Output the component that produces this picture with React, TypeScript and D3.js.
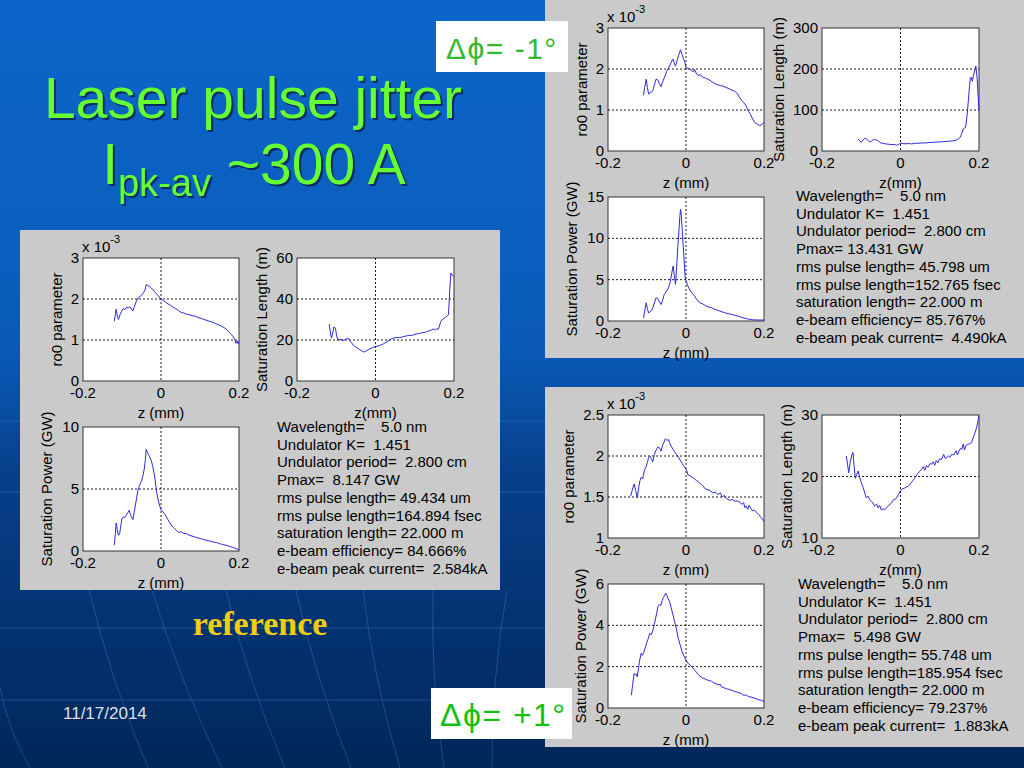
import React from "react";
import * as d3 from "d3";

// z (mm) vs value pairs
const refRo0: [number, number][] = [[-0.120,1.45],[-0.117,1.62],[-0.115,1.75],[-0.112,1.58],[-0.109,1.50],[-0.105,1.62],[-0.101,1.70],[-0.097,1.77],[-0.092,1.74],[-0.088,1.80],[-0.084,1.78],[-0.080,1.81],[-0.076,1.76],[-0.072,1.71],[-0.068,1.82],[-0.063,1.95],[-0.059,2.02],[-0.054,2.06],[-0.049,2.10],[-0.045,2.15],[-0.041,2.22],[-0.038,2.35],[-0.034,2.33],[-0.030,2.31],[-0.025,2.27],[-0.020,2.22],[-0.015,2.16],[-0.010,2.11],[-0.005,2.05],[0.000,2.01],[0.006,1.96],[0.012,1.92],[0.018,1.88],[0.024,1.85],[0.031,1.80],[0.038,1.76],[0.045,1.72],[0.052,1.67],[0.058,1.66],[0.065,1.63],[0.072,1.62],[0.080,1.59],[0.088,1.58],[0.095,1.55],[0.102,1.53],[0.110,1.50],[0.118,1.48],[0.126,1.45],[0.133,1.43],[0.140,1.40],[0.148,1.37],[0.155,1.34],[0.162,1.30],[0.168,1.26],[0.174,1.20],[0.180,1.14],[0.185,1.08],[0.189,1.02],[0.192,0.92],[0.195,0.98],[0.198,0.90],[0.200,0.96]];
const refSatLen: [number, number][] = [[-0.118,27.7],[-0.114,22.5],[-0.112,20.9],[-0.109,23.5],[-0.106,26.3],[-0.102,25.8],[-0.099,22.0],[-0.096,20.2],[-0.093,20.0],[-0.088,20.3],[-0.083,19.9],[-0.078,20.1],[-0.074,20.6],[-0.070,20.9],[-0.066,19.8],[-0.061,18.6],[-0.057,17.6],[-0.052,16.8],[-0.046,16.0],[-0.040,15.3],[-0.035,14.7],[-0.031,14.2],[-0.027,14.3],[-0.023,14.8],[-0.019,15.2],[-0.014,15.7],[-0.009,16.2],[-0.004,16.5],[0.000,16.8],[0.006,17.0],[0.012,17.4],[0.020,18.1],[0.027,18.9],[0.034,19.7],[0.041,20.7],[0.048,21.0],[0.055,21.3],[0.062,21.1],[0.071,21.7],[0.078,21.9],[0.085,22.3],[0.090,22.1],[0.096,22.5],[0.104,22.9],[0.112,23.2],[0.120,23.6],[0.128,23.8],[0.130,24.1],[0.138,24.6],[0.143,24.9],[0.147,25.4],[0.152,24.8],[0.156,25.5],[0.160,25.2],[0.163,26.8],[0.166,29.0],[0.172,30.2],[0.178,31.0],[0.183,31.8],[0.186,32.3],[0.188,40.0],[0.190,47.0],[0.192,52.7],[0.195,51.8],[0.198,51.2],[0.200,51.0]];
const refPower: [number, number][] = [[-0.120,0.46],[-0.117,1.40],[-0.115,2.26],[-0.112,1.70],[-0.109,1.26],[-0.106,1.40],[-0.103,2.05],[-0.100,2.60],[-0.097,2.74],[-0.093,2.70],[-0.089,2.90],[-0.085,3.10],[-0.082,3.28],[-0.079,3.00],[-0.076,2.75],[-0.072,2.53],[-0.069,3.10],[-0.065,3.80],[-0.062,4.40],[-0.059,4.90],[-0.055,5.30],[-0.050,5.65],[-0.046,6.10],[-0.043,6.60],[-0.040,7.40],[-0.038,8.20],[-0.035,7.95],[-0.031,7.70],[-0.028,7.50],[-0.025,7.30],[-0.021,6.80],[-0.018,6.30],[-0.016,5.97],[-0.013,5.20],[-0.011,4.70],[-0.009,4.35],[-0.006,3.95],[-0.003,3.60],[0.000,3.33],[0.004,3.20],[0.009,3.00],[0.014,2.74],[0.020,2.40],[0.026,2.10],[0.032,1.90],[0.039,1.67],[0.045,1.50],[0.052,1.55],[0.058,1.42],[0.065,1.40],[0.072,1.28],[0.080,1.20],[0.088,1.12],[0.095,1.05],[0.102,0.99],[0.110,0.92],[0.118,0.85],[0.126,0.80],[0.133,0.73],[0.142,0.68],[0.150,0.60],[0.158,0.52],[0.167,0.46],[0.175,0.38],[0.183,0.30],[0.192,0.20],[0.200,0.11]];

const minusRo0: [number, number][] = [[-0.109,1.36],[-0.106,1.55],[-0.102,1.75],[-0.099,1.55],[-0.096,1.39],[-0.092,1.42],[-0.088,1.44],[-0.085,1.48],[-0.081,1.62],[-0.077,1.75],[-0.073,1.74],[-0.069,1.66],[-0.064,1.57],[-0.060,1.68],[-0.055,1.80],[-0.050,1.93],[-0.045,2.02],[-0.040,2.12],[-0.036,2.20],[-0.033,2.24],[-0.030,2.14],[-0.027,2.07],[-0.023,2.20],[-0.019,2.33],[-0.014,2.47],[-0.010,2.35],[-0.006,2.24],[-0.003,2.16],[0.000,2.03],[0.005,2.02],[0.010,2.00],[0.015,1.96],[0.019,1.93],[0.022,1.99],[0.026,1.90],[0.031,1.84],[0.037,1.86],[0.043,1.80],[0.050,1.78],[0.056,1.75],[0.062,1.72],[0.068,1.68],[0.075,1.64],[0.082,1.61],[0.088,1.60],[0.095,1.58],[0.103,1.55],[0.110,1.52],[0.118,1.48],[0.125,1.46],[0.130,1.42],[0.136,1.33],[0.142,1.24],[0.148,1.18],[0.154,1.10],[0.159,0.99],[0.165,0.90],[0.170,0.80],[0.176,0.70],[0.182,0.66],[0.189,0.62],[0.194,0.64],[0.200,0.70]];
const minusSatLen: [number, number][] = [[-0.108,29.5],[-0.104,25.0],[-0.100,21.0],[-0.096,26.0],[-0.091,31.0],[-0.086,28.5],[-0.081,24.0],[-0.076,22.5],[-0.071,26.5],[-0.066,28.0],[-0.061,27.0],[-0.056,24.0],[-0.049,19.0],[-0.043,18.5],[-0.036,17.0],[-0.030,16.5],[-0.023,15.6],[-0.016,16.2],[-0.010,14.0],[-0.005,16.0],[0.000,19.0],[0.007,18.0],[0.014,17.5],[0.021,18.2],[0.028,17.2],[0.036,18.5],[0.043,19.0],[0.050,19.2],[0.057,19.8],[0.064,19.5],[0.071,20.5],[0.078,21.0],[0.085,21.3],[0.092,21.8],[0.099,22.0],[0.106,22.5],[0.113,23.0],[0.120,23.5],[0.127,24.0],[0.133,24.8],[0.139,25.4],[0.145,28.0],[0.151,32.0],[0.155,40.0],[0.160,54.0],[0.166,58.0],[0.170,90.0],[0.173,124],[0.176,160],[0.178,178],[0.180,180],[0.183,170],[0.186,185],[0.189,195],[0.192,207],[0.195,180],[0.198,130],[0.200,99]];
const minusPower: [number, number][] = [[-0.109,0.32],[-0.106,1.20],[-0.102,2.20],[-0.099,1.50],[-0.096,1.00],[-0.092,1.10],[-0.088,1.30],[-0.085,1.60],[-0.081,2.20],[-0.077,2.80],[-0.073,2.75],[-0.069,2.40],[-0.064,2.00],[-0.060,2.50],[-0.056,3.20],[-0.050,3.60],[-0.045,4.00],[-0.040,4.80],[-0.036,5.90],[-0.033,6.65],[-0.030,5.50],[-0.027,4.44],[-0.024,6.50],[-0.021,8.90],[-0.018,11.0],[-0.016,12.5],[-0.014,13.5],[-0.012,12.8],[-0.010,11.2],[-0.008,9.70],[-0.005,7.50],[-0.002,5.20],[0.002,4.60],[0.007,4.00],[0.012,3.60],[0.017,3.30],[0.022,3.00],[0.028,2.60],[0.035,2.20],[0.042,2.10],[0.050,1.85],[0.058,1.70],[0.065,1.60],[0.072,1.45],[0.080,1.30],[0.090,1.15],[0.099,1.00],[0.108,0.90],[0.116,0.80],[0.125,0.70],[0.133,0.60],[0.142,0.45],[0.150,0.35],[0.158,0.25],[0.163,0.20],[0.170,0.15],[0.180,0.12],[0.190,0.12],[0.200,0.12]];

const plusRo0: [number, number][] = [[-0.142,1.51],[-0.138,1.58],[-0.133,1.66],[-0.129,1.58],[-0.125,1.49],[-0.121,1.62],[-0.118,1.70],[-0.115,1.74],[-0.111,1.72],[-0.107,1.82],[-0.103,1.86],[-0.099,1.92],[-0.096,1.98],[-0.093,2.00],[-0.089,1.97],[-0.085,1.93],[-0.081,2.02],[-0.077,2.07],[-0.072,2.11],[-0.068,2.10],[-0.064,2.06],[-0.060,2.13],[-0.056,2.17],[-0.053,2.21],[-0.049,2.19],[-0.045,2.20],[-0.042,2.16],[-0.038,2.12],[-0.033,2.08],[-0.029,2.05],[-0.025,2.02],[-0.020,1.99],[-0.015,1.95],[-0.010,1.91],[-0.006,1.88],[-0.003,1.86],[0.002,1.82],[0.005,1.77],[0.010,1.76],[0.016,1.74],[0.022,1.72],[0.027,1.70],[0.031,1.69],[0.037,1.66],[0.043,1.64],[0.049,1.60],[0.056,1.59],[0.062,1.58],[0.068,1.55],[0.075,1.56],[0.082,1.53],[0.088,1.55],[0.093,1.50],[0.098,1.52],[0.104,1.48],[0.112,1.46],[0.118,1.47],[0.125,1.45],[0.133,1.45],[0.138,1.44],[0.143,1.41],[0.148,1.43],[0.151,1.37],[0.154,1.39],[0.158,1.35],[0.162,1.40],[0.166,1.36],[0.171,1.33],[0.176,1.34],[0.181,1.31],[0.186,1.29],[0.191,1.26],[0.196,1.23],[0.200,1.20]];
const plusSatLen: [number, number][] = [[-0.138,23.35],[-0.135,22.0],[-0.132,20.6],[-0.128,22.3],[-0.124,23.5],[-0.121,23.9],[-0.118,21.5],[-0.115,19.7],[-0.112,20.2],[-0.108,20.9],[-0.104,19.9],[-0.100,19.0],[-0.095,18.2],[-0.091,17.3],[-0.087,16.5],[-0.083,16.8],[-0.078,16.2],[-0.074,15.9],[-0.070,15.7],[-0.066,15.2],[-0.061,15.5],[-0.057,14.9],[-0.053,15.3],[-0.049,14.6],[-0.045,14.7],[-0.040,14.6],[-0.036,14.9],[-0.031,15.2],[-0.027,15.5],[-0.023,15.7],[-0.018,16.2],[-0.014,16.3],[-0.010,16.5],[-0.005,17.1],[0.000,17.7],[0.005,18.0],[0.010,18.1],[0.015,18.3],[0.020,18.4],[0.025,18.8],[0.030,19.2],[0.037,19.8],[0.042,20.3],[0.048,20.8],[0.054,21.2],[0.058,21.6],[0.062,21.0],[0.066,21.8],[0.070,21.5],[0.075,22.1],[0.079,22.0],[0.083,22.4],[0.087,21.8],[0.091,22.6],[0.095,22.2],[0.100,22.9],[0.105,22.8],[0.110,23.6],[0.114,22.9],[0.118,23.1],[0.122,23.35],[0.126,23.1],[0.130,23.6],[0.135,23.5],[0.139,23.9],[0.142,24.2],[0.145,23.5],[0.149,24.1],[0.153,24.6],[0.156,24.4],[0.160,25.3],[0.163,24.3],[0.166,25.0],[0.170,25.2],[0.175,25.3],[0.181,25.5],[0.185,26.3],[0.190,27.1],[0.194,28.0],[0.197,28.9],[0.200,29.9]];
const plusPower: [number, number][] = [[-0.140,0.62],[-0.137,1.10],[-0.133,1.67],[-0.130,1.60],[-0.128,1.65],[-0.125,1.51],[-0.122,1.90],[-0.119,2.30],[-0.115,2.64],[-0.112,2.55],[-0.108,2.70],[-0.104,2.95],[-0.100,3.20],[-0.097,3.35],[-0.093,3.61],[-0.089,3.55],[-0.085,3.75],[-0.081,4.05],[-0.078,4.35],[-0.075,4.60],[-0.072,4.91],[-0.068,5.00],[-0.065,4.95],[-0.061,5.20],[-0.058,5.35],[-0.055,5.45],[-0.052,5.56],[-0.049,5.45],[-0.046,5.30],[-0.042,5.15],[-0.038,4.85],[-0.034,4.55],[-0.030,4.25],[-0.025,3.86],[-0.020,3.40],[-0.015,3.05],[-0.010,2.72],[-0.005,2.50],[0.000,2.32],[0.006,2.15],[0.012,2.05],[0.017,1.95],[0.022,1.83],[0.028,1.70],[0.033,1.58],[0.039,1.50],[0.044,1.43],[0.050,1.40],[0.055,1.35],[0.060,1.32],[0.065,1.30],[0.071,1.22],[0.077,1.18],[0.083,1.12],[0.088,1.15],[0.091,1.02],[0.097,0.98],[0.104,0.93],[0.110,0.90],[0.116,0.86],[0.122,0.82],[0.128,0.78],[0.134,0.75],[0.142,0.70],[0.148,0.60],[0.153,0.64],[0.160,0.55],[0.167,0.53],[0.175,0.48],[0.183,0.42],[0.191,0.38],[0.200,0.32]];

const zTicks = [-0.2, 0, 0.2];
const ro0Ticks = [0, 1, 2, 3];
const ro0TicksPlus = [1, 1.5, 2, 2.5];
const refLenTicks = [0, 20, 40, 60];
const minusLenTicks = [0, 100, 200, 300];
const plusLenTicks = [10, 20, 30];
const refPowTicks = [0, 5, 10];
const minusPowTicks = [0, 5, 10, 15];
const plusPowTicks = [0, 2, 4, 6];

const refText = ["Wavelength=    5.0 nm", "Undulator K=  1.451", "Undulator period=  2.800 cm", "Pmax=  8.147 GW", "rms pulse length= 49.434 um", "rms pulse length=164.894 fsec", "saturation length= 22.000 m", "e-beam efficiency= 84.666%", "e-beam peak current=  2.584kA"];
const minusText = ["Wavelength=    5.0 nm", "Undulator K=  1.451", "Undulator period=  2.800 cm", "Pmax= 13.431 GW", "rms pulse length= 45.798 um", "rms pulse length=152.765 fsec", "saturation length= 22.000 m", "e-beam efficiency= 85.767%", "e-beam peak current=  4.490kA"];
const plusText = ["Wavelength=    5.0 nm", "Undulator K=  1.451", "Undulator period=  2.800 cm", "Pmax=  5.498 GW", "rms pulse length= 55.748 um", "rms pulse length=185.954 fsec", "saturation length= 22.000 m", "e-beam efficiency= 79.237%", "e-beam peak current=  1.883kA"];

const FONT = "Liberation Sans, Arial, Helvetica, sans-serif";

type PlotProps = {
  x: number; y: number; w: number; h: number;
  data: [number, number][];
  yTicks: number[];
  yLabel: string; xLabel: string; yLabelDx: number;
  exponent?: boolean;
};

const Plot = ({ x, y, w, h, data, yTicks, yLabel, xLabel, yLabelDx, exponent }: PlotProps) => {
  const xs = d3.scaleLinear().domain([-0.2, 0.2]).range([x, x + w]);
  const ys = d3.scaleLinear().domain([yTicks[0], yTicks[yTicks.length - 1]]).range([y + h, y]);
  const line = d3.line<[number, number]>().x((d) => xs(d[0])).y((d) => ys(d[1]));
  const inner = yTicks.slice(1, -1);
  return (
    <g fontFamily={FONT} fontSize={15} fill="#000">
      <rect x={x} y={y} width={w} height={h} fill="#fff" stroke="#333" strokeWidth={1} />
      {inner.map((t) => (
        <line key={t} x1={x} x2={x + w} y1={ys(t)} y2={ys(t)} stroke="#000" strokeWidth={0.9} strokeDasharray="2,2" />
      ))}
      <line x1={xs(0)} x2={xs(0)} y1={y} y2={y + h} stroke="#000" strokeWidth={0.9} strokeDasharray="2,2" />
      <path d={line(data) || ""} fill="none" stroke="#2a2ad8" strokeWidth={1} />
      {yTicks.map((t) => (
        <text key={t} x={x - 4} y={ys(t) + 5} textAnchor="end">{t}</text>
      ))}
      {zTicks.map((t) => (
        <text key={t} x={xs(t)} y={y + h + 17} textAnchor="middle">{t}</text>
      ))}
      <text x={x + w / 2} y={y + h + 37} textAnchor="middle">{xLabel}</text>
      <text transform={`translate(${x + yLabelDx},${y + h / 2}) rotate(-90)`} textAnchor="middle" dominantBaseline="middle">{yLabel}</text>
      {exponent && (
        <text x={x - 1} y={y - 6}>
          x 10<tspan dy={-9} fontSize={11}>-3</tspan>
        </text>
      )}
    </g>
  );
};

type PanelProps = {
  x: number; y: number; w: number; h: number;
  ro0: [number, number][]; len: [number, number][]; pow: [number, number][];
  ro0T: number[]; lenT: number[]; powT: number[];
  dx: [number, number, number];
  lines: string[];
  textX: number; textY: number;
};

const Panel = ({ x, y, w, h, ro0, len, pow, ro0T, lenT, powT, dx, lines, textX, textY }: PanelProps) => (
  <g>
    <rect x={x} y={y} width={w} height={h} fill="#cacaca" />
    <Plot x={x + 63} y={y + 28} w={156} h={123} data={ro0} yTicks={ro0T} yLabel="ro0 parameter" xLabel="z (mm)" yLabelDx={dx[0]} exponent />
    <Plot x={x + 277} y={y + 28} w={157} h={123} data={len} yTicks={lenT} yLabel="Saturation Length (m)" xLabel="z(mm)" yLabelDx={dx[1]} />
    <Plot x={x + 63} y={y + 197} w={156} h={124} data={pow} yTicks={powT} yLabel="Saturation Power (GW)" xLabel="z (mm)" yLabelDx={dx[2]} />
    <g fontFamily={FONT} fontSize={15} fill="#000">
      {lines.map((s, i) => (
        <text key={i} x={textX} y={textY + i * 17.7} style={{ whiteSpace: "pre" }}>{s}</text>
      ))}
    </g>
  </g>
);

// faint template grid lines in the background
const fan = [
  [89, 590, 148, 768], [152, 590, 222, 768], [226, 590, 285, 768], [296, 590, 351, 768],
  [363, 590, 400, 768], [433, 590, 444, 768], [507, 590, 492, 768], [0, 687, 30, 768],
];
const rules = [421, 492, 628, 700];

export default function App() {
  return (
    <svg width={1024} height={768} style={{ position: "absolute", left: 0, top: 0, display: "block" }}>
      <defs>
        <linearGradient id="bg" x1="0" y1="0" x2="0" y2="1">
          <stop offset="0%" stopColor="#0c66c9" />
          <stop offset="45%" stopColor="#0a5bb9" />
          <stop offset="62%" stopColor="#073f8a" />
          <stop offset="100%" stopColor="#01275a" />
        </linearGradient>
      </defs>
      <rect width={1024} height={768} fill="url(#bg)" />
      <g stroke="#5a9ae0" strokeOpacity={0.3} strokeWidth={1} fill="none">
        {rules.map((r) => (
          <line key={r} x1={0} x2={1024} y1={r} y2={r} />
        ))}
        {fan.map((f, i) => (
          <path key={i} d={`M${f[0]},${f[1]} Q${(f[0] + f[2]) / 2 - 8},${(f[1] + f[3]) / 2} ${f[2]},${f[3]}`} />
        ))}
      </g>

      {/* title */}
      <g fontFamily={FONT} fontSize={57} textAnchor="middle">
        <text x={255} y={120} fill="#001a40" opacity={0.75}>Laser pulse jitter</text>
        <text x={253} y={118} fill="#66ff33">Laser pulse jitter</text>
        <text x={256} y={186} fill="#001a40" opacity={0.75}>
          I<tspan fontSize={38} dy={12}>pk-av</tspan><tspan dy={-12}> ~300 A</tspan>
        </text>
        <text x={254} y={184} fill="#66ff33">
          I<tspan fontSize={38} dy={12}>pk-av</tspan><tspan dy={-12}> ~300 A</tspan>
        </text>
      </g>

      <Panel x={20} y={230} w={480} h={360} ro0={refRo0} len={refSatLen} pow={refPower}
        ro0T={ro0Ticks} lenT={refLenTicks} powT={refPowTicks} dx={[-25, -34, -35]}
        lines={refText} textX={277} textY={432} />
      <Panel x={545} y={0} w={479} h={358} ro0={minusRo0} len={minusSatLen} pow={minusPower}
        ro0T={ro0Ticks} lenT={minusLenTicks} powT={minusPowTicks} dx={[-25, -42, -35]}
        lines={minusText} textX={796} textY={201} />
      <Panel x={545} y={387} w={479} h={360} ro0={plusRo0} len={plusSatLen} pow={plusPower}
        ro0T={ro0TicksPlus} lenT={plusLenTicks} powT={plusPowTicks} dx={[-38, -34, -26]}
        lines={plusText} textX={798} textY={589} />

      {/* phase labels */}
      <rect x={436} y={21} width={132} height={51} fill="#fff" />
      <text x={446} y={59} fontFamily="Liberation Sans, DejaVu Sans, sans-serif" fontSize={30} letterSpacing={1.5} fill="#33b833">Δϕ= -1°</text>
      <rect x={431} y={688} width={141} height={51} fill="#fff" />
      <text x={440} y={726} fontFamily="Liberation Sans, DejaVu Sans, sans-serif" fontSize={32} letterSpacing={1.5} fill="#11c011">Δϕ= +1°</text>

      <text x={260} y={635} textAnchor="middle" fontFamily="Liberation Serif, Times New Roman, serif" fontWeight="bold" fontSize={34} fill="#f2cc10">reference</text>
      <text x={63} y={719} fontFamily={FONT} fontSize={17} fill="#dde0ea">11/17/2014</text>
    </svg>
  );
}
